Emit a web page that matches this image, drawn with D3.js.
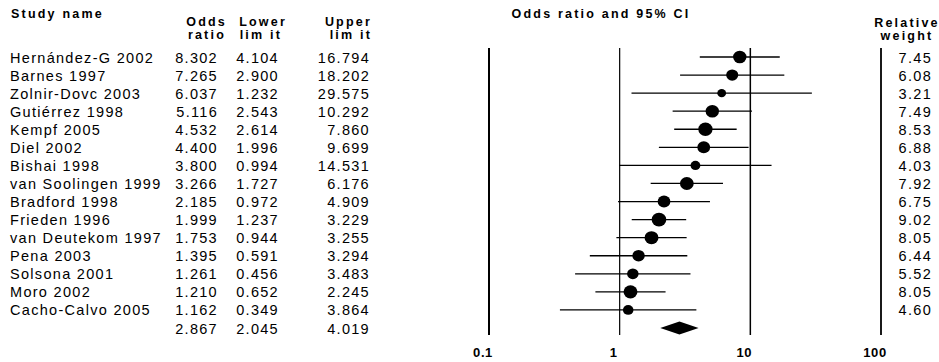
<!DOCTYPE html>
<html lang="en">

<head>
  <meta charset="utf-8">
  <script src="https://d3js.org/d3.v7.min.js"></script>
  <style>
    body {
      margin: 0;
      background: #fff;
    }

    text {
      font-family: "Liberation Sans", Arial, sans-serif;
      fill: #000;
    }

    .row {
      font-size: 14.5px;
      letter-spacing: 1.3px;
    }

    .head {
      font-size: 12.5px;
      font-weight: bold;
      letter-spacing: 2.2px;
    }

    .tick {
      font-size: 13px;
      font-weight: bold;
      letter-spacing: 0.6px;
    }
  </style>
</head>

<body>
  <svg width="939" height="362"></svg>
  <script>
    const studies = ["Hernández-G 2002", "Barnes 1997", "Zolnir-Dovc 2003", "Gutiérrez 1998", "Kempf 2005",
      "Diel 2002", "Bishai 1998", "van Soolingen 1999", "Bradford 1998", "Frieden 1996",
      "van Deutekom 1997", "Pena 2003", "Solsona 2001", "Moro 2002", "Cacho-Calvo 2005"];
    const oddsRatio = [8.302, 7.265, 6.037, 5.116, 4.532, 4.400, 3.800, 3.266, 2.185, 1.999, 1.753, 1.395, 1.261, 1.210, 1.162];
    const lowerLimit = [4.104, 2.900, 1.232, 2.543, 2.614, 1.996, 0.994, 1.727, 0.972, 1.237, 0.944, 0.591, 0.456, 0.652, 0.349];
    const upperLimit = [16.794, 18.202, 29.575, 10.292, 7.860, 9.699, 14.531, 6.176, 4.909, 3.229, 3.255, 3.294, 3.483, 2.245, 3.864];
    const relWeight = [7.45, 6.08, 3.21, 7.49, 8.53, 6.88, 4.03, 7.92, 6.75, 9.02, 8.05, 6.44, 5.52, 8.05, 4.60];
    const summary = [2.867, 2.045, 4.019];
    const axisTicks = [0.1, 1, 10, 100];
    const tickLabels = ["0.1", "1", "10", "100"];

    const svg = d3.select("svg");

    const x = d3.scaleLog().domain([0.1, 100]).range([489, 881]);
    const y = d3.scalePoint().domain(d3.range(studies.length + 1)).range([57, 328]);
    const f3 = d3.format(".3f");
    const f2 = d3.format(".2f");

    // headers
    const heads = [
      ["Study name", 11, 18, "start"],
      ["Odds", 227, 26, "end"], ["ratio", 226, 38.5, "end"],
      ["Lower", 287, 26, "end"], ["lim it", 282, 38.5, "end"],
      ["Upper", 372, 26, "end"], ["lim it", 372, 38.5, "end"],
      ["Odds ratio and 95% CI", 601, 18, "middle"],
      ["Relative", 907, 27, "middle"], ["weight", 907, 39.5, "middle"]
    ];
    svg.selectAll(".head").data(heads).join("text")
      .attr("class", "head")
      .attr("x", d => d[1]).attr("y", d => d[2])
      .attr("text-anchor", d => d[3])
      .text(d => d[0]);

    // vertical reference lines
    const lineW = [2, 1.2, 1.5, 1.8];
    svg.selectAll(".ref").data(axisTicks).join("line")
      .attr("class", "ref")
      .attr("x1", d => x(d)).attr("x2", d => x(d))
      .attr("y1", 48).attr("y2", 335)
      .attr("stroke", "#000")
      .attr("stroke-width", (d, i) => lineW[i]);

    svg.selectAll(".tick").data(axisTicks).join("text")
      .attr("class", "tick")
      .attr("x", d => x(d) - 6).attr("y", 357)
      .attr("text-anchor", "middle")
      .text((d, i) => tickLabels[i]);

    // study rows
    const rows = svg.selectAll(".study").data(studies).join("g").attr("class", "study");
    const tY = (d, i) => y(i) + 5.5;
    rows.append("text").attr("class", "row").attr("x", 10).attr("y", tY).text(d => d);
    rows.append("text").attr("class", "row").attr("x", 218).attr("y", tY).attr("text-anchor", "end")
      .text((d, i) => f3(oddsRatio[i]));
    rows.append("text").attr("class", "row").attr("x", 279).attr("y", tY).attr("text-anchor", "end")
      .text((d, i) => f3(lowerLimit[i]));
    rows.append("text").attr("class", "row").attr("x", 370).attr("y", tY).attr("text-anchor", "end")
      .text((d, i) => f3(upperLimit[i]));
    rows.append("text").attr("class", "row").attr("x", 932).attr("y", tY).attr("text-anchor", "end")
      .text((d, i) => f2(relWeight[i]));

    rows.append("line")
      .attr("x1", (d, i) => x(lowerLimit[i])).attr("x2", (d, i) => x(upperLimit[i]))
      .attr("y1", (d, i) => y(i)).attr("y2", (d, i) => y(i))
      .attr("stroke", "#000").attr("stroke-width", 1.3);

    rows.append("ellipse")
      .attr("cx", (d, i) => x(oddsRatio[i])).attr("cy", (d, i) => y(i))
      .attr("rx", (d, i) => 2.45 * Math.sqrt(relWeight[i]))
      .attr("ry", (d, i) => 2.3 * Math.sqrt(relWeight[i]))
      .attr("fill", "#000");

    // summary row
    const sy = y(studies.length);
    svg.selectAll(".sum").data(summary).join("text")
      .attr("class", "row sum")
      .attr("x", (d, i) => [218, 279, 370][i]).attr("y", sy + 5.5)
      .attr("text-anchor", "end")
      .text(d => f3(d));

    svg.append("path")
      .attr("d", `M${x(summary[1])},${sy} L${x(summary[0])},${sy - 6.5} L${x(summary[2])},${sy} L${x(summary[0])},${sy + 6.5} Z`)
      .attr("fill", "#000");
  </script>
</body>

</html>
